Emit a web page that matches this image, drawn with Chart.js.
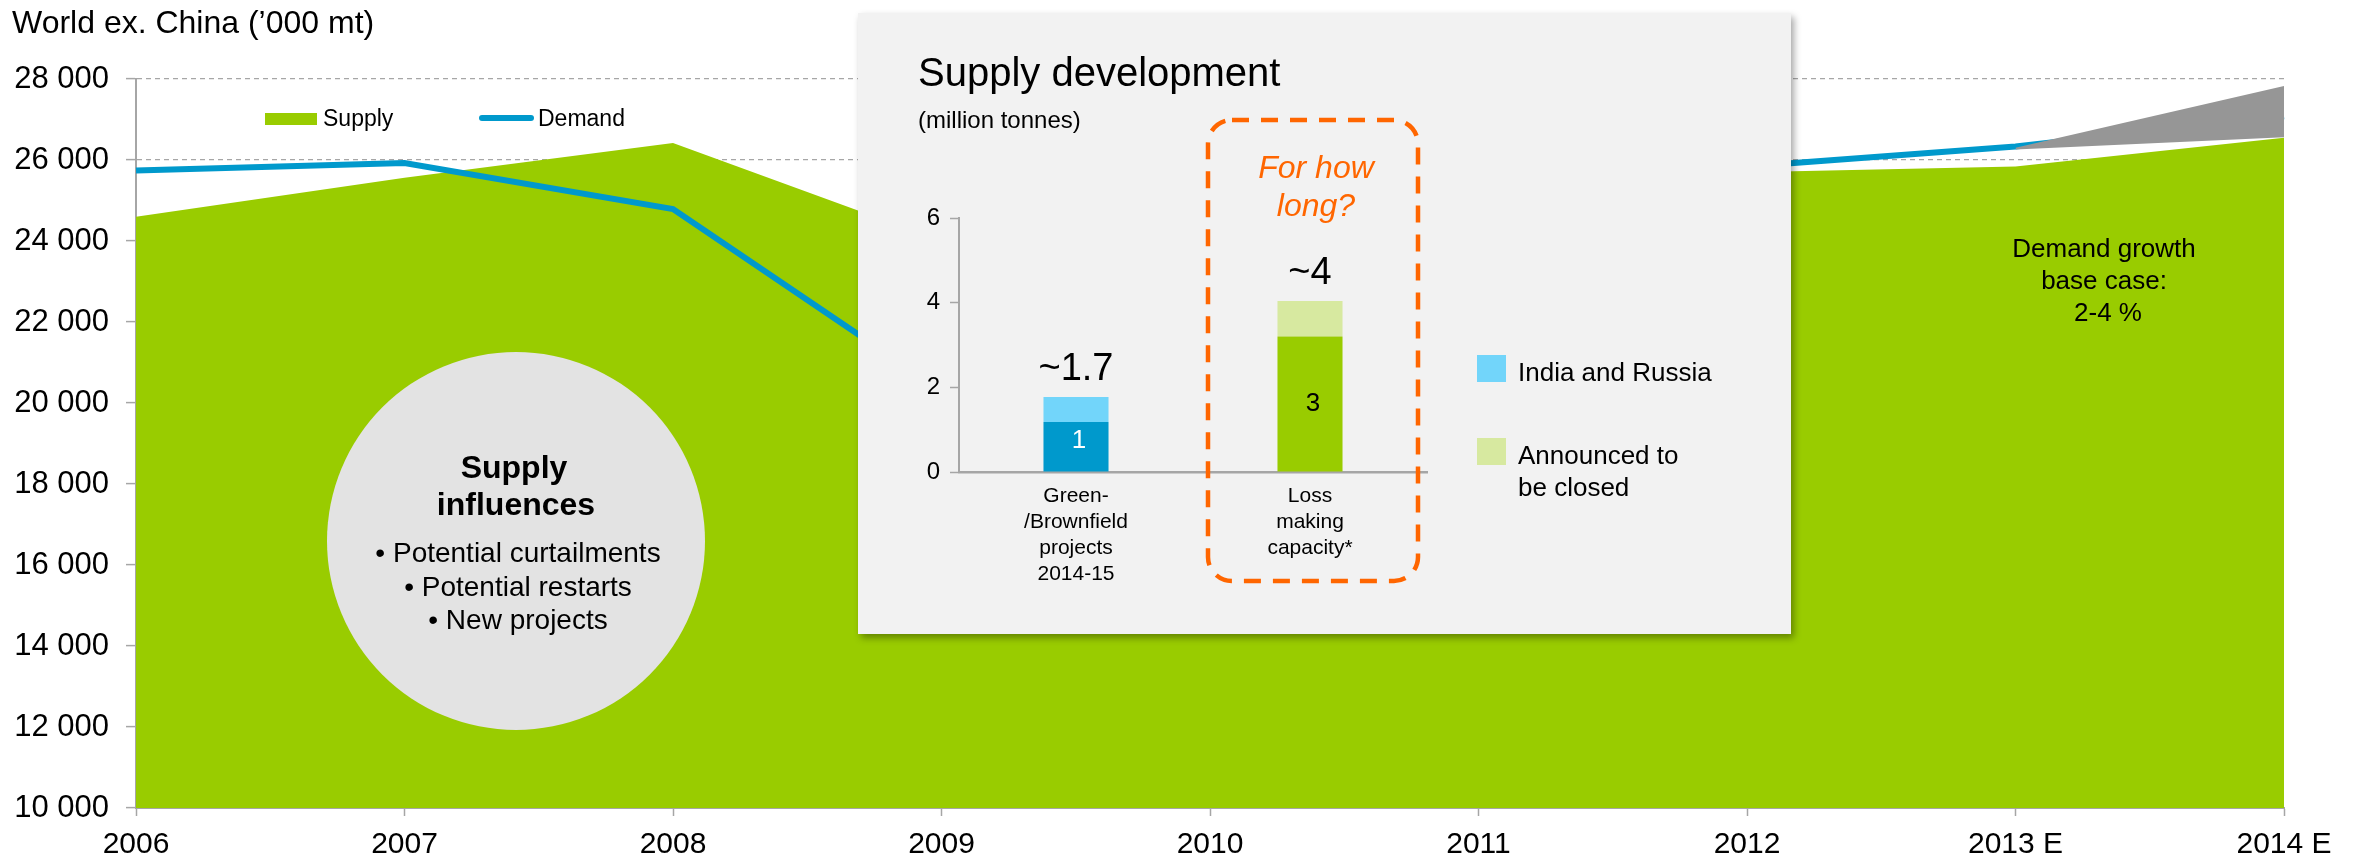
<!DOCTYPE html>
<html>
<head>
<meta charset="utf-8">
<title>World ex. China - supply and demand</title>
<script src="https://cdn.jsdelivr.net/npm/chart.js@4.4.0/dist/chart.umd.min.js"></script>
<style>
  html, body { margin: 0; padding: 0; background: #fff; }
  #wrap { position: relative; width: 2360px; height: 860px; overflow: hidden; }
  #main { position: absolute; left: 0; top: 0; }
  #inset {
    position: absolute; left: 858px; top: 13px; width: 933px; height: 621px;
    background: #f2f2f2; box-shadow: 3px 4px 7px rgba(0, 0, 0, 0.35);
  }
</style>
</head>
<body>
<div id="wrap">
  <canvas id="main" width="2360" height="860"></canvas>
  <div id="inset"><canvas id="insetCanvas" width="933" height="621"></canvas></div>
</div>
<script>
const FONT = '"Liberation Sans", Arial, sans-serif';

// --- main chart: world ex. China, '000 mt ---
const years = ['2006', '2007', '2008', '2009', '2010', '2011', '2012', '2013 E', '2014 E'];
const supply = [24600, 25560, 26420, 24000, 24700, 25900, 25700, 25840, 26550];
const demand = [25740, 25925, 24790, 20300, 23500, 24900, 25840, 26335, 27080];
// demand growth base case (2-4 %) band, forecast years only
const growthLow = [null, null, null, null, null, null, null, 26260, 26560];
const growthHigh = [null, null, null, null, null, null, null, 26300, 27830];
const yMin = 10000;
const yMax = 28000;
const yStep = 2000;

// --- inset: supply development, million tonnes ---
const insetCats = [['Green-', '/Brownfield', 'projects', '2014-15'], ['Loss', 'making', 'capacity*']];
const insetBase = [1.18, 3.2];
const insetTop = [0.59, 0.84];
const insetBaseLabels = ['1', '3'];
const insetTotals = ['~1.7', '~4'];
const insetLegend = [['India and Russia'], ['Announced to', 'be closed']];
const insetMax = 6;
const insetStep = 2;

const GREEN = '#99cc00';
const BLUE = '#0099cc';
const GREY = '#969696';
const AXIS = '#a6a6a6';
const ORANGE = '#ff6600';

function spaced(v) {
  return String(v).replace(/\B(?=(\d{3})+(?!\d))/g, ' ');
}

function text(ctx, str, x, y, font, color, align) {
  ctx.font = font;
  ctx.fillStyle = color;
  ctx.textAlign = align || 'left';
  ctx.textBaseline = 'alphabetic';
  ctx.fillText(str, x, y);
}

// title, legend, circle and side note for the main chart
const mainDecor = {
  id: 'mainDecor',
  afterDraw(chart) {
    const ctx = chart.ctx;
    const ds = chart.data.datasets;
    ctx.save();
    text(ctx, 'World ex. China (\u2019000 mt)', 12, 33, '32px ' + FONT, '#000');

    // legend
    ctx.fillStyle = ds[0].backgroundColor;
    ctx.fillRect(265, 113, 52, 12);
    ctx.font = '23px ' + FONT;
    ctx.fillStyle = '#000';
    ctx.textBaseline = 'middle';
    ctx.textAlign = 'left';
    ctx.fillText(ds[0].label, 323, 120);
    ctx.strokeStyle = ds[1].borderColor;
    ctx.lineWidth = 6;
    ctx.lineCap = 'round';
    ctx.beginPath();
    ctx.moveTo(482, 118);
    ctx.lineTo(531, 118);
    ctx.stroke();
    ctx.fillText(ds[1].label, 538, 120);

    // supply influences bubble
    ctx.fillStyle = '#e3e3e3';
    ctx.beginPath();
    ctx.arc(516, 541, 189, 0, Math.PI * 2);
    ctx.fill();
    text(ctx, 'Supply', 514, 478, 'bold 32px ' + FONT, '#000', 'center');
    text(ctx, 'influences', 516, 515, 'bold 32px ' + FONT, '#000', 'center');
    text(ctx, '\u2022 Potential curtailments', 518, 562, '28px ' + FONT, '#000', 'center');
    text(ctx, '\u2022 Potential restarts', 518, 596, '28px ' + FONT, '#000', 'center');
    text(ctx, '\u2022 New projects', 518, 629, '28px ' + FONT, '#000', 'center');

    // demand growth note
    text(ctx, 'Demand growth', 2104, 257, '26px ' + FONT, '#000', 'center');
    text(ctx, 'base case:', 2104, 289, '26px ' + FONT, '#000', 'center');
    text(ctx, '2-4 %', 2108, 321, '26px ' + FONT, '#000', 'center');
    ctx.restore();
  }
};

new Chart(document.getElementById('main'), {
  type: 'line',
  data: {
    labels: years,
    datasets: [
      { label: 'Supply', data: supply, fill: 'start', backgroundColor: GREEN,
        borderColor: 'transparent', borderWidth: 0, pointRadius: 0, tension: 0, order: 4 },
      { label: 'Demand', data: demand, fill: false, borderColor: BLUE, borderWidth: 6,
        pointRadius: 0, tension: 0, order: 3 },
      { label: 'growth low', data: growthLow, fill: false, borderColor: 'transparent',
        borderWidth: 0, pointRadius: 0, order: 2 },
      { label: 'growth high', data: growthHigh, fill: '-1', backgroundColor: GREY,
        borderColor: 'transparent', borderWidth: 0, pointRadius: 0, order: 1 }
    ]
  },
  options: {
    responsive: false,
    animation: false,
    devicePixelRatio: 1,
    layout: { padding: { left: 0, right: 76, top: 79, bottom: 0 } },
    plugins: {
      legend: { display: false },
      tooltip: { enabled: false },
      title: { display: false }
    },
    scales: {
      x: {
        offset: false,
        grid: { display: true, drawOnChartArea: false, drawTicks: true, tickLength: 8,
          color: AXIS, tickColor: AXIS, tickWidth: 1.5 },
        border: { display: true, color: AXIS, width: 2 },
        ticks: { font: { family: FONT, size: 30 }, color: '#000', padding: 11,
          maxRotation: 0, autoSkip: false },
        afterFit: s => { s.height = 52; }
      },
      y: {
        min: yMin,
        max: yMax,
        ticks: { stepSize: yStep, font: { family: FONT, size: 31 }, color: '#000',
          padding: 17, callback: v => spaced(v) },
        grid: { color: AXIS, lineWidth: 1.2, tickLength: 10, tickColor: AXIS,
          tickWidth: 1.5, tickBorderDash: [] },
        border: { display: true, color: AXIS, width: 2, dash: [5, 4] },
        afterFit: s => { s.width = 136; }
      }
    }
  },
  plugins: [mainDecor]
});

// titles, labels, dashed box and legend of the inset
const insetDecor = {
  id: 'insetDecor',
  afterDraw(chart) {
    const ctx = chart.ctx;
    const ds = chart.data.datasets;
    ctx.save();
    text(ctx, 'Supply development', 60, 73, '40px ' + FONT, '#000');
    text(ctx, '(million tonnes)', 60, 115, '24px ' + FONT, '#000');

    // dashed box round the loss making capacity
    ctx.strokeStyle = ORANGE;
    ctx.lineWidth = 4.5;
    ctx.setLineDash([17, 12]);
    ctx.beginPath();
    ctx.roundRect(350, 107, 210, 461, 24);
    ctx.stroke();
    ctx.setLineDash([]);
    text(ctx, 'For how', 458, 165, 'italic 32px ' + FONT, ORANGE, 'center');
    text(ctx, 'long?', 458, 203, 'italic 32px ' + FONT, ORANGE, 'center');

    // bar labels
    const baseMeta = chart.getDatasetMeta(0);
    const topMeta = chart.getDatasetMeta(1);
    baseMeta.data.forEach((bar, i) => {
      const mid = (bar.y + bar.base) / 2;
      ctx.font = '26px ' + FONT;
      ctx.fillStyle = i === 0 ? '#fff' : '#000';
      ctx.textAlign = 'center';
      ctx.textBaseline = 'middle';
      ctx.fillText(insetBaseLabels[i], bar.x + 3, i === 0 ? mid - 6 : mid);
      const top = topMeta.data[i];
      text(ctx, insetTotals[i], top.x, top.y - 17, '38px ' + FONT, '#000', 'center');
    });

    // legend: the upper segment of each bar
    const rows = [342, 425];
    insetLegend.forEach((lines, i) => {
      ctx.fillStyle = ds[1].backgroundColor[i];
      ctx.fillRect(619, rows[i], 29, 27);
      lines.forEach((ln, j) => {
        text(ctx, ln, 660, rows[i] + 26 + j * 32, '26px ' + FONT, '#000');
      });
    });
    ctx.restore();
  }
};

new Chart(document.getElementById('insetCanvas'), {
  type: 'bar',
  data: {
    labels: insetCats,
    datasets: [
      { label: 'base', data: insetBase, backgroundColor: [BLUE, GREEN], stack: 's' },
      { label: 'upper', data: insetTop, backgroundColor: ['#72d5fa', '#d7e9a0'], stack: 's' }
    ]
  },
  options: {
    responsive: false,
    animation: false,
    devicePixelRatio: 1,
    layout: { padding: { left: 0, right: 364, top: 205, bottom: 0 } },
    datasets: { bar: { categoryPercentage: 1, barPercentage: 0.278 } },
    plugins: {
      legend: { display: false },
      tooltip: { enabled: false }
    },
    scales: {
      x: {
        stacked: true,
        grid: { display: false, drawTicks: false },
        border: { display: true, color: AXIS, width: 2.5 },
        ticks: { font: { family: FONT, size: 21, lineHeight: 1.24 }, color: '#000',
          padding: 11, maxRotation: 0, autoSkip: false },
        afterFit: s => { s.height = 162; }
      },
      y: {
        stacked: true,
        min: 0,
        max: insetMax,
        ticks: { stepSize: insetStep, font: { family: FONT, size: 24 }, color: '#000', padding: 10 },
        grid: { drawOnChartArea: false, tickLength: 9, color: AXIS, tickWidth: 1.5 },
        border: { display: true, color: AXIS, width: 2 },
        afterFit: s => { s.width = 101; }
      }
    }
  },
  plugins: [insetDecor]
});
</script>
</body>
</html>
